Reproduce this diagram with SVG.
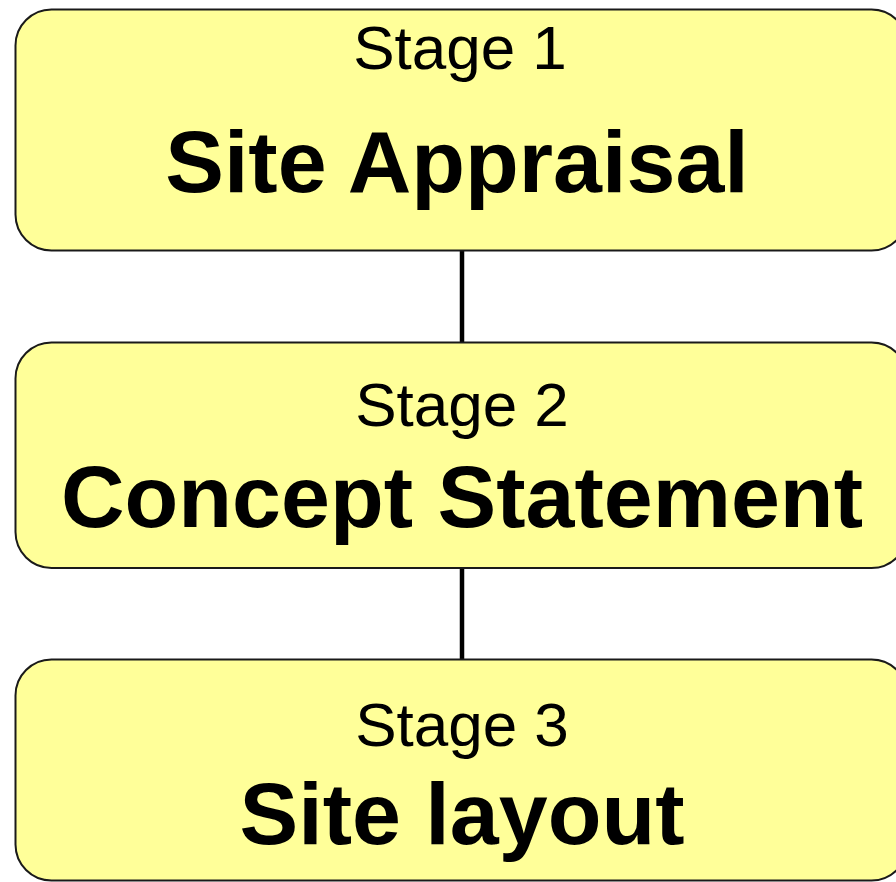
<svg xmlns="http://www.w3.org/2000/svg" width="896" height="882" viewBox="0 0 896 882">
<style>
.box{fill:#FFFF99;stroke:#1a1a1a;stroke-width:2}
.sub{font-family:"Liberation Sans",Arial,sans-serif;font-size:62px;fill:#000;text-anchor:middle}
.ttl{font-family:"Liberation Sans",Arial,sans-serif;font-size:88px;font-weight:bold;fill:#000;text-anchor:middle}
.conn{stroke:#000;stroke-width:4.5;fill:none}
</style>
<rect width="896" height="882" fill="#fff"/>
<g id="connectors">
<line class="conn" x1="462" y1="251" x2="462" y2="342"/>
<line class="conn" x1="462" y1="568" x2="462" y2="659"/>
</g>
<g id="stage1">
<rect class="box" x="15.5" y="9.5" width="892" height="241" rx="36"/>
<text class="sub" x="460" y="69">Stage 1</text>
<text class="ttl" x="457" y="192">Site Appraisal</text>
</g>
<g id="stage2">
<rect class="box" x="15.5" y="342.5" width="892" height="225.5" rx="36"/>
<text class="sub" x="462" y="426">Stage 2</text>
<text class="ttl" x="462" y="527">Concept Statement</text>
</g>
<g id="stage3">
<rect class="box" x="15.5" y="659.5" width="892" height="221" rx="36"/>
<text class="sub" x="462" y="746">Stage 3</text>
<text class="ttl" x="462" y="844">Site layout</text>
</g>
</svg>
